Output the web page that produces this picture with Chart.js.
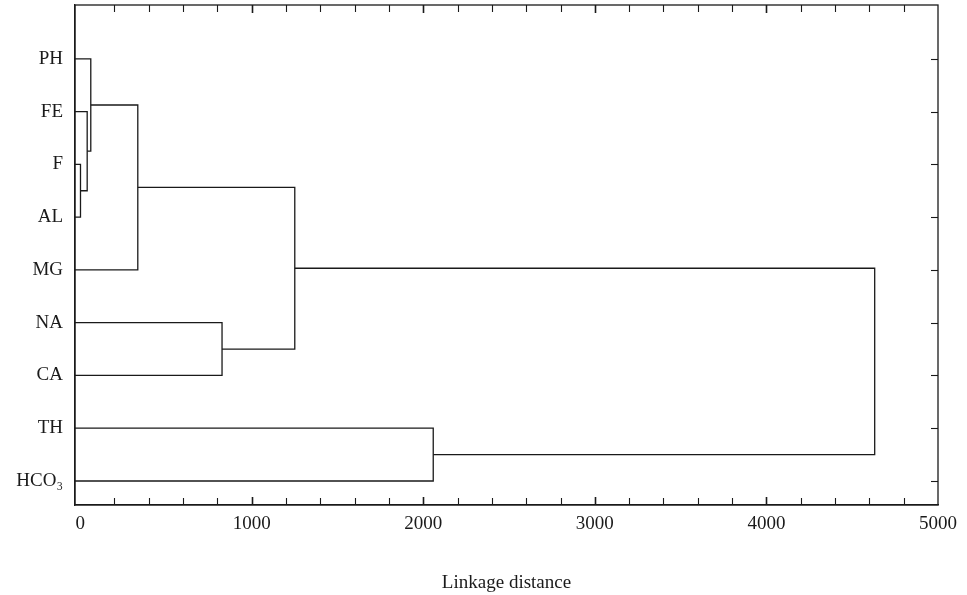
<!DOCTYPE html>
<html>
<head>
<meta charset="utf-8">
<script src="https://cdn.jsdelivr.net/npm/chart.js@4.4.0/dist/chart.umd.min.js"></script>
<style>
  html, body { margin: 0; padding: 0; background: #fff; }
  #wrap { width: 967px; height: 595px; }
</style>
</head>
<body>
<div id="wrap"><canvas id="dendro"></canvas></div>
<script>
// leaves from top to bottom
const leaves = ['PH', 'FE', 'F', 'AL', 'MG', 'NA', 'CA', 'TH', 'HCO₃'];
// linkage: ids 0-8 are the leaves, every merge makes a new id (9, 10, ...)
const mergeLeft   = [2, 1, 0, 11, 5, 12, 7, 14];
const mergeRight  = [3, 9, 10, 4, 6, 13, 8, 15];
const mergeHeight = [2, 41, 62, 336, 827, 1251, 2058, 4631];
const xTicks = [0, 1000, 2000, 3000, 4000, 5000];

const xMin = -30, xMax = 5000;
const ink = '#1a1a1a';
const serif = "'Liberation Serif', 'DejaVu Serif', serif";

// node positions: x = linkage height, y = row
let nodeX = leaves.map(() => xMin);
let nodeY = leaves.map((l, i) => i + 1);
let datasets = [];
mergeHeight.forEach((h, i) => {
  let a = mergeLeft[i], b = mergeRight[i];
  datasets.push({
    data: [
      {x: nodeX[a], y: nodeY[a]},
      {x: h, y: nodeY[a]},
      {x: h, y: nodeY[b]},
      {x: nodeX[b], y: nodeY[b]}
    ],
    showLine: true,
    borderColor: ink,
    borderWidth: 1.3,
    pointRadius: 0,
    fill: false
  });
  nodeX.push(h);
  nodeY.push((nodeY[a] + nodeY[b]) / 2);
});

// frame + inward tick marks on all sides
const frameTicks = {
  id: 'frameTicks',
  afterDraw(chart) {
    let c = chart.ctx, a = chart.chartArea;
    let sx = chart.scales.x, sy = chart.scales.y;
    c.save();
    c.strokeStyle = ink;
    c.lineWidth = 1.3;
    c.strokeRect(a.left, a.top, a.right - a.left, a.bottom - a.top);
    for (let v = 200; v < xMax; v += 200) {
      let px = Math.round(sx.getPixelForValue(v)) + 0.5;
      let major = v % 1000 === 0;
      let len = major ? 8 : 7;
      c.lineWidth = major ? 1.6 : 1.1;
      c.beginPath();
      c.moveTo(px, a.bottom); c.lineTo(px, a.bottom - len);
      c.moveTo(px, a.top); c.lineTo(px, a.top + len);
      c.stroke();
    }
    c.lineWidth = 1.1;
    leaves.forEach((l, i) => {
      let py = Math.round(sy.getPixelForValue(i + 1)) + 0.5;
      c.beginPath();
      c.moveTo(a.right, py); c.lineTo(a.right - 7, py);
      c.stroke();
    });
    c.restore();
  }
};

new Chart(document.getElementById('dendro'), {
  type: 'scatter',
  data: { datasets: datasets },
  plugins: [frameTicks],
  options: {
    responsive: true,
    maintainAspectRatio: false,
    animation: false,
    layout: { padding: { top: 5, right: 29, left: 0, bottom: 0 } },
    plugins: { legend: { display: false }, tooltip: { enabled: false } },
    scales: {
      x: {
        type: 'linear',
        min: xMin,
        max: xMax,
        grid: { display: false },
        border: { color: ink, width: 1.3 },
        afterBuildTicks: s => { s.ticks = xTicks.map(v => ({value: v})); },
        afterFit: s => { s.height = 90; s.paddingLeft = 0; s.paddingRight = 0; },
        ticks: {
          color: ink,
          font: { family: serif, size: 19 },
          padding: 0,
          maxRotation: 0,
          autoSkip: false,
          callback: v => String(v)
        },
        title: {
          display: true,
          text: 'Linkage distance',
          color: ink,
          font: { family: serif, size: 19 },
          padding: { top: 12, bottom: 1 }
        }
      },
      y: {
        type: 'linear',
        reverse: true,
        min: -0.02,
        max: 9.455,
        grid: { display: false },
        border: { color: ink, width: 1.3 },
        afterBuildTicks: s => { s.ticks = leaves.map((l, i) => ({value: i + 1})); },
        afterFit: s => { s.width = 75; s.paddingTop = 0; s.paddingBottom = 0; },
        ticks: {
          color: ink,
          font: { family: serif, size: 19 },
          padding: 4,
          callback: v => leaves[v - 1] || ''
        }
      }
    }
  }
});
</script>
</body>
</html>
